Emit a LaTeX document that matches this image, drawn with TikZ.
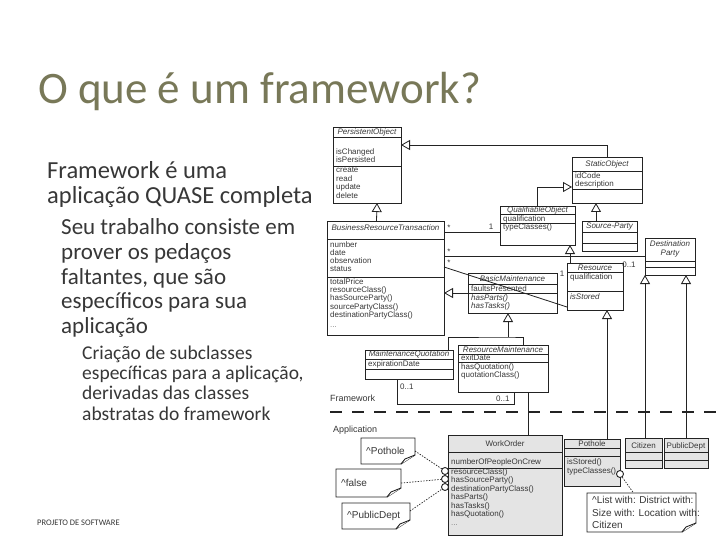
\documentclass[tikz,border=0pt]{standalone}
\usepackage{fontspec}
\setmainfont{Carlito}
\newfontfamily\umlfont{Liberation Sans}
\usetikzlibrary{arrows.meta}
\definecolor{titlecol}{RGB}{120,120,88}
\definecolor{bodycol}{RGB}{55,55,55}
\definecolor{umlline}{RGB}{35,35,35}
\definecolor{umltext}{RGB}{55,55,55}
\definecolor{appfill}{RGB}{228,228,228}
\newcommand\uclass[6][]{\node[clsbox,#1,minimum width={(#5-#3)*1pt},minimum height={(#6-#4)*1pt}] (#2) at (#3,#4) {};}
\newcommand\ucomp[3]{\draw[compline] (#1,#3) -- (#2,#3);}
\newcommand\ut[5][]{\node[utext,#1] (#2) at (#3,#4) {#5};}
\newcommand\tl[5][]{\node[bodytext,#1] (#2) at (#3,#4) {#5};}
\newcommand\unote[6]{%
  \node[anchor=north west,inner sep=0pt,outer sep=0pt,minimum width={(#4-#2)*1pt},minimum height={(#5-#3)*1pt}] (#1) at (#2,#3) {};
  \draw[notedraw] (#1.north west) -- (#1.north east) -- ([yshift=9pt]#1.south east) -- ([xshift=-14pt]#1.south east) -- (#1.south west) -- cycle;
  \draw[notedraw] ([yshift=9pt]#1.south east) -- ([xshift=-10pt,yshift=5pt]#1.south east) -- ([xshift=-14pt]#1.south east);
  \node[ntext] (#1-t) at ([xshift=5pt]#1.west) {#6};}
\begin{document}
\begin{tikzpicture}[x=1pt,y=-1pt,
  clsbox/.style={draw=umlline,line width=0.9pt,fill=white,anchor=north west,inner sep=0pt,outer sep=0pt},
  appcls/.style={fill=appfill},
  compline/.style={draw=umlline,line width=0.9pt},
  utext/.style={anchor=west,inner sep=0pt,text=umltext,font=\umlfont\fontsize{8}{9}\selectfont},
  uname/.style={utext,anchor=center,font=\umlfont\itshape\fontsize{8}{9}\selectfont},
  unamer/.style={utext,anchor=center},
  uital/.style={font=\umlfont\itshape\fontsize{8}{9}\selectfont},
  ntext/.style={anchor=west,inner sep=0pt,align=left,text=umltext,font=\umlfont\fontsize{10}{12.5}\selectfont},
  notedraw/.style={draw=umlline,line width=0.9pt,fill=white,line join=miter},
  bodytext/.style={anchor=base west,inner sep=0pt,text=bodycol},
  gen/.style={draw=umlline,line width=0.8pt,-{Triangle[length=9pt,width=10pt,fill=white]}},
  umlconn/.style={draw=umlline,line width=0.8pt},
  dotc/.style={draw=umlline,line width=0.7pt,dash pattern=on 1.4pt off 1.4pt},
  port/.style={circle,draw=umlline,line width=0.9pt,fill=white,inner sep=0pt,minimum size=7pt},
  mult/.style={anchor=center,inner sep=0pt,text=umltext,font=\umlfont\fontsize{8}{9}\selectfont},
  lbl/.style={anchor=west,inner sep=0pt,text=umltext,font=\umlfont\fontsize{9}{10}\selectfont},
  sep/.style={draw=umlline,line width=2.6pt,dash pattern=on 12pt off 10pt}
]
\useasboundingbox (0,0) rectangle (720,540);
\fill[white] (0,0) rectangle (720,540);

% ---------- slide text ----------
\node[anchor=base west,inner sep=0pt,text=titlecol,font=\fontsize{45}{45}\selectfont] (title) at (38,104) {O que é um framework?};
\tl[font=\fontsize{24.5}{25}\selectfont]{l1a}{47}{179}{Framework é uma}
\tl[font=\fontsize{24.5}{25}\selectfont]{l1b}{47}{204}{aplicação QUASE completa}
\tl[font=\fontsize{23}{24}\selectfont]{l2a}{61}{235}{Seu trabalho consiste em}
\tl[font=\fontsize{23}{24}\selectfont]{l2b}{61}{259.5}{prover os pedaços}
\tl[font=\fontsize{23}{24}\selectfont]{l2c}{61}{284}{faltantes, que são}
\tl[font=\fontsize{23}{24}\selectfont]{l2d}{61}{308.5}{específicos para sua}
\tl[font=\fontsize{23}{24}\selectfont]{l2e}{61}{333}{aplicação}
\tl[font=\fontsize{19.5}{20}\selectfont]{l3a}{82}{359}{Criação de subclasses}
\tl[font=\fontsize{19.5}{20}\selectfont]{l3b}{82}{379}{específicas para a aplicação,}
\tl[font=\fontsize{19.5}{20}\selectfont]{l3c}{82}{399.5}{derivadas das classes}
\tl[font=\fontsize{19.5}{20}\selectfont]{l3d}{82}{420}{abstratas do framework}
\tl[font=\fontsize{8.5}{9}\selectfont]{foot}{37}{525}{PROJETO DE SOFTWARE}

% ---------- framework classes ----------
\uclass{po}{333}{127}{401}{203}
\ucomp{333}{401}{137.5}\ucomp{333}{401}{166}
\ut[uname]{po-n}{367}{132}{PersistentObject}
\ut{po-a1}{336}{152}{isChanged}
\ut{po-a2}{336}{160}{isPersisted}
\ut{po-m1}{336}{170}{create}
\ut{po-m2}{336}{178.5}{read}
\ut{po-m3}{336}{187}{update}
\ut{po-m4}{336}{195.5}{delete}

\uclass{so}{572}{157}{642}{203}
\ucomp{572}{642}{171}\ucomp{572}{642}{189}
\ut[uname]{so-n}{607}{164}{StaticObject}
\ut{so-a1}{575}{175.5}{idCode}
\ut{so-a2}{575}{184}{description}

\uclass{sp}{582}{221}{637}{251}
\ucomp{582}{637}{232}\ucomp{582}{637}{243}
\ut[uname]{sp-n}{609.5}{227}{Source-Party}

\uclass{qo}{500}{206}{575}{245}
\ucomp{500}{575}{214.5}\ucomp{500}{575}{223}
\ut[uname]{qo-n}{537.5}{210.5}{QualifiableObject}
\ut{qo-a1}{503}{219}{qualification}
\ut{qo-m1}{503}{227.5}{typeClasses()}

\uclass{res}{567}{263}{623}{310}
\ucomp{567}{623}{272.5}\ucomp{567}{623}{291}
\ut[uname]{res-n}{595}{268}{Resource}
\ut{res-a1}{570}{277.5}{qualification}
\ut[uital]{res-m1}{570}{296.5}{isStored}

\uclass{dp}{645}{238}{695}{275}
\ucomp{645}{695}{261}\ucomp{645}{695}{267}
\ut[uname,align=center,font=\umlfont\itshape\fontsize{8}{9.5}\selectfont]{dp-n}{670}{249}{Destination\\Party}

\uclass{brt}{327}{221}{444}{335}
\ucomp{327}{444}{239}\ucomp{327}{444}{277}
\ut[uname]{brt-n}{385.5}{228}{BusinessResourceTransaction}
\ut{brt-a1}{330}{245}{number}
\ut{brt-a2}{330}{253}{date}
\ut{brt-a3}{330}{261}{observation}
\ut{brt-a4}{330}{269}{status}
\ut{brt-m1}{330}{281.5}{totalPrice}
\ut{brt-m2}{330}{290}{resourceClass()}
\ut{brt-m3}{330}{298.5}{hasSourceParty()}
\ut{brt-m4}{330}{307}{sourcePartyClass()}
\ut{brt-m5}{330}{315.5}{destinationPartyClass()}
\ut[text=gray]{brt-m6}{330}{327}{...}

\uclass{bm}{468}{273}{557}{313}
\ucomp{468}{557}{284}\ucomp{468}{557}{293}
\ut[uname]{bm-n}{512.5}{279}{BasicMaintenance}
\ut{bm-a1}{471}{288.5}{faultsPresented}
\ut[uital]{bm-m1}{471}{298}{hasParts()}
\ut[uital]{bm-m2}{471}{306.5}{hasTasks()}

\uclass{rm}{458}{345}{548}{392}
\ucomp{458}{548}{354}\ucomp{458}{548}{362.5}
\ut[uname]{rm-n}{503}{349.5}{ResourceMaintenance}
\ut{rm-a1}{461}{358}{exitDate}
\ut{rm-m1}{461}{367}{hasQuotation()}
\ut{rm-m2}{461}{375.5}{quotationClass()}

\uclass{mq}{365}{350}{453}{379}
\ucomp{365}{453}{359}\ucomp{365}{453}{369}
\ut[uname]{mq-n}{409}{354.5}{MaintenanceQuotation}
\ut{mq-a1}{368}{364}{expirationDate}

% ---------- separator ----------
\node[lbl] (fwl) at (330,398) {Framework};
\node[lbl] (apl) at (333,430) {Application};
\draw[sep] (330,412) -- (720,412);

% ---------- application classes ----------
\uclass[appcls]{wo}{448}{435}{562}{535}
\ucomp{448}{562}{452}\ucomp{448}{562}{468}
\ut[unamer]{wo-n}{505}{444}{WorkOrder}
\ut{wo-a1}{451}{462}{numberOfPeopleOnCrew}
\ut{wo-m1}{451}{472}{resourceClass()}
\ut{wo-m2}{451}{480.5}{hasSourceParty()}
\ut{wo-m3}{451}{489}{destinationPartyClass()}
\ut{wo-m4}{451}{497.5}{hasParts()}
\ut{wo-m5}{451}{506}{hasTasks()}
\ut{wo-m6}{451}{514.5}{hasQuotation()}
\ut[text=gray]{wo-m7}{451}{525}{...}

\uclass[appcls]{pot}{564}{439}{620}{486}
\ucomp{564}{620}{448}\ucomp{564}{620}{456}
\ut[unamer]{pot-n}{592}{443.5}{Pothole}
\ut{pot-m1}{567}{462}{isStored()}
\ut{pot-m2}{567}{471}{typeClasses()}

\uclass[appcls]{cit}{625}{438}{662}{468}
\ucomp{625}{662}{452}\ucomp{625}{662}{460}
\ut[unamer]{cit-n}{643.5}{446}{Citizen}

\uclass[appcls]{pd}{664}{438}{708}{468}
\ucomp{664}{708}{452}\ucomp{664}{708}{460}
\ut[unamer]{pd-n}{686}{446}{PublicDept}

% ---------- notes ----------
\unote{n1}{361}{438}{415}{464}{\^{}Pothole}
\unote{n2}{336}{469}{401}{497}{\^{}false}
\unote{n3}{342}{503}{410}{529}{\^{}PublicDept}
\unote{n4}{587}{493}{696}{532}{\^{}List with: District with:\\Size with: Location with:\\Citizen}

\node[port] (c1) at (445,471) {};
\node[port] (c2) at (445,479) {};
\node[port] (c3) at (445,487) {};
\node[port] (pc) at (620,474) {};

% ---------- generalizations ----------
\draw[gen] (so.north) |- ([yshift=20pt]po.east);
\draw[gen] ([xshift=-9pt]brt.north) -- ([xshift=10pt]po.south);
\draw[gen] (qo.north) |- ([yshift=-7pt]so.west);
\draw[gen] ([xshift=-13.5pt]sp.north) -- ([xshift=-11pt]so.south);
\draw[gen] ([xshift=-25pt]res.north) -- ([xshift=32.5pt]qo.south);
\draw[gen] (bm.west) -- (bm.west -| brt.east);
\coordinate (tj) at (508,337);
\draw[gen] (tj) -- ([xshift=-4.5pt]bm.south);
\draw[umlconn] ([xshift=39pt]mq.north) |- (tj) -| ([xshift=20pt]rm.north);
\draw[umlconn] ([xshift=23pt]wo.north) -- ([xshift=25pt]rm.south);
\draw[gen] ([xshift=15pt]pot.north) -- ([xshift=12pt]res.south);
\draw[gen] ([xshift=1.5pt]cit.north) -- ([xshift=-25pt]dp.south);
\draw[gen] (pd.north) -- ([xshift=16pt]dp.south);

% ---------- associations ----------
\draw[umlconn] ([yshift=46pt]brt.east) -- ([yshift=-6.5pt]qo.west);
\draw[umlconn] ([yshift=21.5pt]brt.east) -- (dp.west);
\draw[umlconn] ([yshift=11pt]brt.east) -- ([yshift=-20.5pt]res.west);
\draw[umlconn] ([xshift=-12pt]mq.south) -- ++(0,25) -| ([xshift=11pt]rm.south);
\node[mult] (m1) at (449,228) {*};
\node[mult] (m2) at (491,227) {1};
\node[mult] (m3) at (449,252) {*};
\node[mult] (m4) at (629,265) {0..1};
\node[mult] (m5) at (449,263) {*};
\node[mult] (m6) at (562,274) {1};
\node[mult,anchor=west] (m7) at (400,387) {0..1};
\node[mult,anchor=west] (m8) at (496,398.5) {0..1};

% ---------- note links ----------
\draw[dotc] (n1.east) -- (c1);
\draw[dotc] (n2.east) -- (c2);
\draw[dotc] ([yshift=5pt]n3.east) -- (c3);
\draw[dotc] (pc) -- ([xshift=-8pt]n4.north);
\end{tikzpicture}
\end{document}
